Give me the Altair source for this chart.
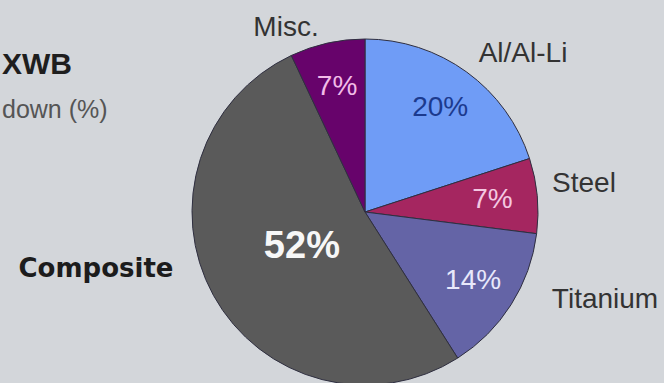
import altair as alt
import pandas as pd

# ---- data ----
categories = ["Al/Al-Li", "Steel", "Titanium", "Composite", "Misc."]
shares = [20, 7, 14, 52, 7]
title_lines = ["XWB", "down (%)"]

# ---- styles ----
slice_colors = ["#6f9cf6", "#a52660", "#6464a6", "#5a5a5a", "#67036b"]
label_colors = ["#1c3a8e", "#f4c8e2", "#e8e8fb", "#f7f7f7", "#f2bce8"]
CX, CY, R = 365, 212, 173
FONT = "Liberation Sans"

df = pd.DataFrame({"category": categories, "share": shares,
                   "rank": list(range(len(categories)))})

base = alt.Chart(df).transform_calculate(
    pct="datum.share + '%'"
).encode(
    theta=alt.Theta("share:Q", stack=True),
    order=alt.Order("rank:Q"),
    x=alt.value(CX),
    y=alt.value(CY),
)

pie = base.mark_arc(outerRadius=R, stroke="#2f2f40", strokeWidth=1).encode(
    color=alt.Color("category:N",
                    scale=alt.Scale(domain=categories, range=slice_colors),
                    legend=None)
)

small_labels = base.mark_text(radius=128, fontSize=28, font=FONT).encode(
    text=alt.condition("datum.category == 'Composite'", alt.value(""), alt.Text("pct:N")),
    color=alt.Color("category:N",
                    scale=alt.Scale(domain=categories, range=label_colors),
                    legend=None),
)

big_label = base.mark_text(radius=72, fontSize=38, fontWeight="bold", font=FONT,
                           color="#f7f7f7").encode(
    text=alt.condition("datum.category == 'Composite'", alt.Text("pct:N"), alt.value("")),
)

# outer category labels (layout: x, y baseline, align, font, size, weight, colour)
outer_layout = {
    "Misc.": (286, 36, "center", FONT, 28, "normal", "#333333"),
    "Al/Al-Li": (523, 62, "center", FONT, 28, "normal", "#333333"),
    "Steel": (584, 192, "center", FONT, 28, "normal", "#333333"),
    "Titanium": (605, 308, "center", FONT, 28, "normal", "#333333"),
    "Composite": (96, 277, "center", "DejaVu Sans", 26, "bold", "#1c1c1c"),
}
outer_layers = []
for name, (px, py, al, fnt, fs, fw, col) in outer_layout.items():
    outer_layers.append(
        alt.Chart(df).transform_filter(alt.datum.category == name).mark_text(
            align=al, baseline="alphabetic", font=fnt, fontSize=fs,
            fontWeight=fw, color=col
        ).encode(text="category:N", x=alt.value(px), y=alt.value(py))
    )

title_df = pd.DataFrame({"t": title_lines, "i": [0, 1]})
title1 = alt.Chart(title_df).transform_filter(alt.datum.i == 0).mark_text(
    align="left", baseline="alphabetic", font=FONT, fontSize=30,
    fontWeight="bold", color="#1e1e1e"
).encode(text="t:N", x=alt.value(2), y=alt.value(74))
title2 = alt.Chart(title_df).transform_filter(alt.datum.i == 1).mark_text(
    align="left", baseline="alphabetic", font=FONT, fontSize=25,
    color="#555555"
).encode(text="t:N", x=alt.value(2), y=alt.value(118))

chart = alt.layer(pie, small_labels, big_label, *outer_layers, title1, title2).resolve_scale(
    color="independent"
).properties(
    width=664, height=383, padding=0, background="#d3d6da",
    autosize=alt.AutoSizeParams(type="none"),
).configure_view(strokeWidth=0)

chart.save("out.html", embed_options={"renderer": "svg", "actions": False})
